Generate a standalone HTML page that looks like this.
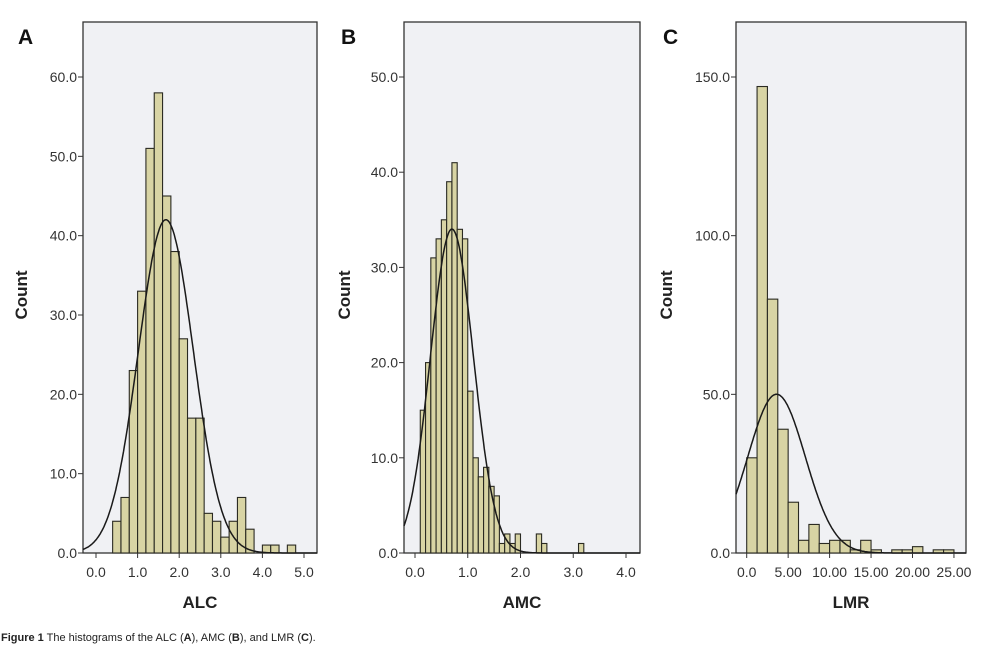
<!DOCTYPE html>
<html><head><meta charset="utf-8">
<style>
body{margin:0;background:#fff;width:997px;height:647px;overflow:hidden;font-family:"Liberation Sans",Arial,sans-serif;}
svg text{font-family:"Liberation Sans",Arial,sans-serif;}
</style></head>
<body>
<svg id="fig" width="997" height="647" viewBox="0 0 997 647" xmlns="http://www.w3.org/2000/svg">
<text x="1" y="641" font-size="11" fill="#222"><tspan font-weight="bold">Figure 1</tspan> The histograms of the ALC (<tspan font-weight="bold">A</tspan>), AMC (<tspan font-weight="bold">B</tspan>), and LMR (<tspan font-weight="bold">C</tspan>).</text>
</svg>
<script>
// Panel A: ALC
const alcCounts=[4,7,23,33,51,58,45,38,27,17,17,5,4,2,4,7,3,0,1,1,0,1];
const alcBinStart=0.4, alcBinWidth=0.2;
const alcYTicks=[0,10,20,30,40,50,60];
const alcXTicks=[0,1,2,3,4,5];
const alcXLabels=["0.0","1.0","2.0","3.0","4.0","5.0"];
const alcCurve=[1.68,0.661,348];
// Panel B: AMC
const amcCounts=[15,20,31,33,35,39,41,34,33,17,10,8,9,7,6,1,2,1,2,0,0,0,2,1,0,0,0,0,0,0,1];
const amcBinStart=0.1, amcBinWidth=0.1;
const amcYTicks=[0,10,20,30,40,50];
const amcXTicks=[0,1,2,3,4];
const amcXLabels=["0.0","1.0","2.0","3.0","4.0"];
const amcCurve=[0.7,0.408,348];
// Panel C: LMR
const lmrCounts=[30,147,80,39,16,4,9,3,4,4,1,4,1,0,1,1,2,0,1,1];
const lmrBinStart=0, lmrBinWidth=1.25;
const lmrYTicks=[0,50,100,150];
const lmrXTicks=[0,5,10,15,20,25];
const lmrXLabels=["0.0","5.00","10.00","15.00","20.00","25.00"];
const lmrCurve=[3.6,3.47,348];

const NS="http://www.w3.org/2000/svg";
const svg=document.getElementById('fig');
function el(tag,attrs,parent){const e=document.createElementNS(NS,tag);for(const k in attrs)e.setAttribute(k,attrs[k]);(parent||svg).appendChild(e);return e;}

function panel(cfg){
  const g=el('g',{});
  
  
  const L=cfg.left,R=cfg.right,T=22,B=553;
  const xs=v=>cfg.x0px+(v-0)*cfg.pxPerUnit;
  const ys=v=>B-v*(B-77)/cfg.yTop;
  const bg=el('rect',{x:L,y:T,width:R-L,height:B-T,fill:'#f0f1f4',stroke:'#333','stroke-width':1.3},g);
  
  
  cfg.counts.forEach((c,i)=>{
    if(c<=0)return;
    const x1=xs(cfg.binStart+i*cfg.binWidth),x2=xs(cfg.binStart+(i+1)*cfg.binWidth);
    const r=el('rect',{x:x1,y:ys(c),width:x2-x1,height:B-ys(c),fill:'#d8d4a4',stroke:'#2a2a22','stroke-width':1.1},g);
    
    
  });
  // normal curve
  const [mu,sd,n]=cfg.curve;
  let d='';const xmin=(L-cfg.x0px)/cfg.pxPerUnit,xmax=(R-cfg.x0px)/cfg.pxPerUnit;
  for(let k=0;k<=300;k++){const v=xmin+(xmax-xmin)*k/300;const y=n*cfg.binWidth/(sd*Math.sqrt(2*Math.PI))*Math.exp(-((v-mu)**2)/(2*sd*sd));d+=(k?'L':'M')+xs(v).toFixed(1)+' '+ys(y).toFixed(1);}
  const p=el('path',{d:d,fill:'none',stroke:'#1a1a1a','stroke-width':1.5},g);
  
  
  cfg.yTicks.forEach(v=>{
    el('line',{x1:L-5,x2:L,y1:ys(v),y2:ys(v),stroke:'#333','stroke-width':1},g);
    const t=el('text',{x:L-6,y:ys(v)+5,'font-size':14,'text-anchor':'end',fill:'#333'},g);
    t.textContent=v.toFixed(1);
    
    
  });
  cfg.xTicks.forEach((v,i)=>{
    el('line',{x1:xs(v),x2:xs(v),y1:B,y2:B+5,stroke:'#333','stroke-width':1},g);
    const t=el('text',{x:xs(v),y:B+24,'font-size':14,'text-anchor':'middle',fill:'#333'},g);
    t.textContent=cfg.xLabels[i];
    
    
  });
  const xt=el('text',{x:(L+R)/2,y:608,'font-size':17,'font-weight':'bold','text-anchor':'middle',fill:'#222'},g);
  xt.textContent=cfg.title;
  
  
  const yt=el('text',{x:cfg.countX,y:295,'font-size':17,'font-weight':'bold','text-anchor':'middle',fill:'#222',transform:'rotate(-90 '+cfg.countX+' 295)'},g);
  yt.textContent='Count';
  
  
  const lt=el('text',{x:cfg.letterX,y:44,'font-size':21,'font-weight':'bold',fill:'#111'},g);
  lt.textContent=cfg.letter;
  
  
}
panel({name:'alc',letter:'A',letterX:18,countX:27,left:83,right:317,x0px:96,pxPerUnit:41.6,yTop:60,counts:alcCounts,binStart:alcBinStart,binWidth:alcBinWidth,yTicks:alcYTicks,xTicks:alcXTicks,xLabels:alcXLabels,curve:alcCurve,title:'ALC'});
panel({name:'amc',letter:'B',letterX:341,countX:350,left:404,right:640,x0px:415,pxPerUnit:52.75,yTop:50,counts:amcCounts,binStart:amcBinStart,binWidth:amcBinWidth,yTicks:amcYTicks,xTicks:amcXTicks,xLabels:amcXLabels,curve:amcCurve,title:'AMC'});
panel({name:'lmr',letter:'C',letterX:663,countX:672,left:736,right:966,x0px:746.7,pxPerUnit:8.29,yTop:150,counts:lmrCounts,binStart:lmrBinStart,binWidth:lmrBinWidth,yTicks:lmrYTicks,xTicks:lmrXTicks,xLabels:lmrXLabels,curve:lmrCurve,title:'LMR'});
</script>
</body></html>
